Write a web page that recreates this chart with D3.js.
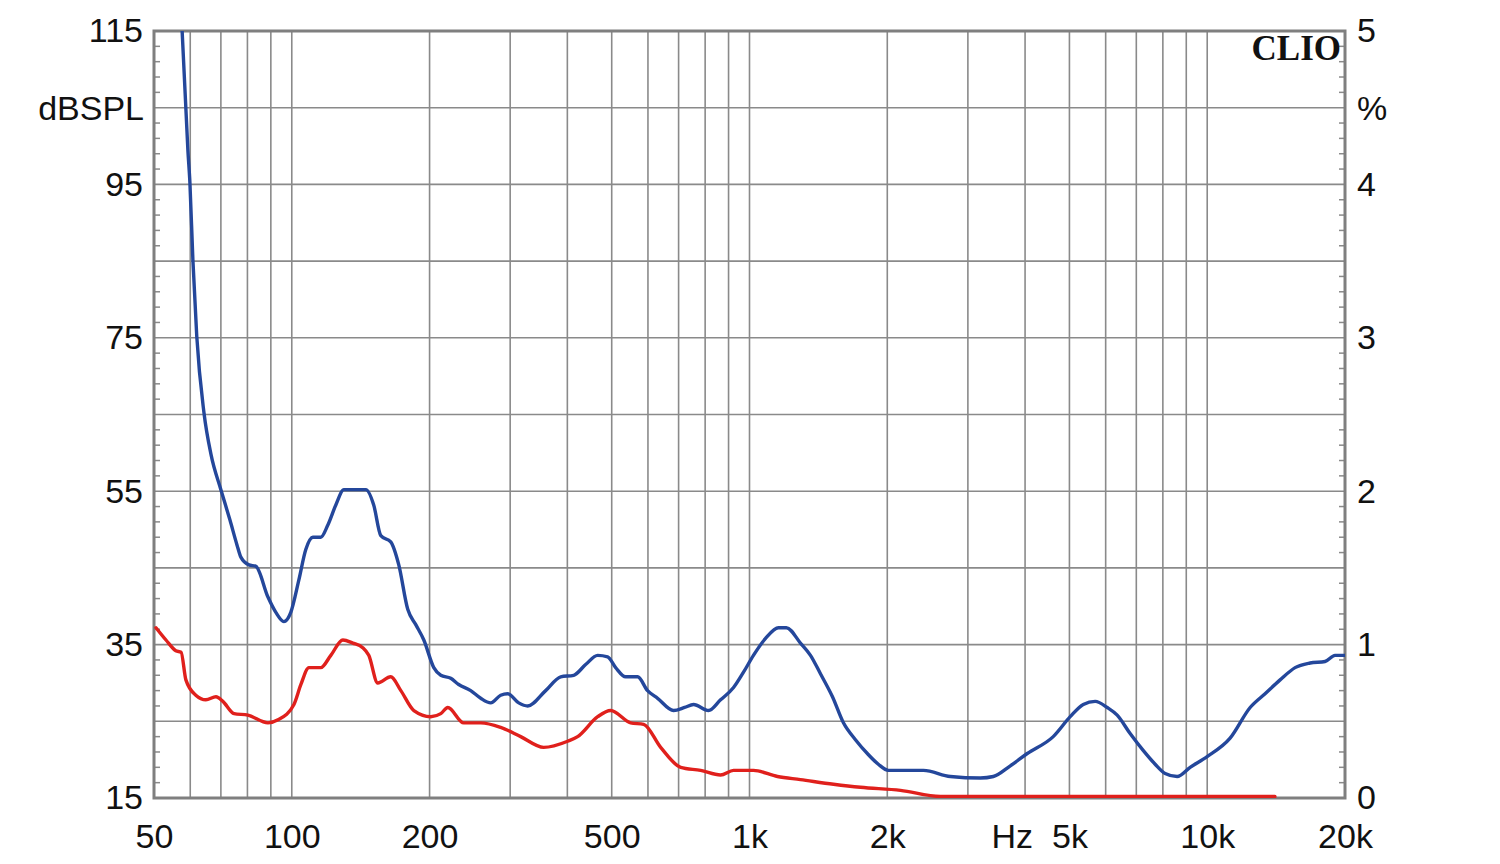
<!DOCTYPE html>
<html><head><meta charset="utf-8">
<script src="https://cdn.jsdelivr.net/npm/d3@7"></script>
<style>
html,body{margin:0;padding:0;background:#fff;}
svg{display:block;}
text{font-family:"Liberation Sans",Arial,sans-serif;fill:#111;}
</style></head>
<body><svg id="c" width="1500" height="864"></svg>
<script>
// ---- data (frequency in Hz, level in % on right axis) ----
const blueFreq = [57.6,59.3,59.9,60.8,62.0,64.3,66.6,70.0,73.3,75.9,77.4,80.6,83.5,88.7,92.3,96.1,99.5,103.6,107.3,111.2,115.7,119.9,124.8,130.0,145.2,151.0,156.5,164.5,171.3,179.2,186.6,194.3,204.3,211.6,222.5,231.6,246.0,258.7,272.0,286.0,296.3,313.2,327.7,358.6,386.8,412.9,438.5,465.9,489.8,510.0,536.2,569.5,598.8,629.8,682.4,721.3,754.6,813.6,864.5,922.9,970.3,1020,1084,1157,1204,1292,1359,1429,1518,1604,1704,1809,1912,2011,2399,2747,3194,3410,3714,4045,4609,5020,5360,5692,6047,6358,6786,7245,7696,8092,8595,9176,9995,11220,12410,13380,14430,15560,16780,18090,19020,20000];
const blueVal = [5.0,4.22,4.01,3.51,3.01,2.51,2.24,2.01,1.81,1.65,1.57,1.52,1.51,1.31,1.21,1.15,1.21,1.42,1.62,1.70,1.70,1.78,1.91,2.01,2.01,1.91,1.71,1.67,1.52,1.23,1.13,1.03,0.85,0.80,0.78,0.74,0.70,0.65,0.62,0.67,0.68,0.62,0.60,0.70,0.79,0.80,0.87,0.93,0.92,0.85,0.79,0.79,0.70,0.65,0.57,0.59,0.61,0.57,0.64,0.72,0.82,0.93,1.04,1.11,1.11,1.01,0.93,0.81,0.66,0.49,0.38,0.29,0.22,0.18,0.18,0.14,0.13,0.14,0.21,0.29,0.40,0.53,0.61,0.63,0.59,0.54,0.42,0.31,0.22,0.16,0.14,0.20,0.27,0.39,0.59,0.68,0.77,0.85,0.88,0.89,0.93,0.93];
const redFreq = [50.5,53.1,55.8,57.3,58.7,61.7,64.9,68.3,70.7,74.8,80.2,88.7,93.3,101.1,104.7,109.0,115.7,121.7,129.3,135.9,142.9,147.3,154.1,164.5,173.1,184.8,201.2,211.6,219.2,237.5,258.7,286.0,316.3,355.0,400.6,421.2,465.9,497.3,549.9,587.2,639.6,707.2,782.0,864.5,922.9,1020,1151,1292,1526,1748,2137,2612,3243,5834,9995,11790,14060];
const redVal = [1.11,1.03,0.96,0.95,0.77,0.67,0.64,0.66,0.63,0.55,0.54,0.49,0.51,0.61,0.74,0.85,0.85,0.93,1.03,1.01,0.98,0.93,0.75,0.79,0.70,0.57,0.53,0.55,0.59,0.49,0.49,0.46,0.40,0.33,0.37,0.40,0.53,0.57,0.49,0.48,0.33,0.20,0.18,0.15,0.18,0.18,0.14,0.12,0.09,0.07,0.05,0.01,0.01,0.01,0.01,0.01,0.01];
const leftTicks = [15,35,55,75,95,115];
const rightTicks = [0,1,2,3,4,5];
const xTicks = [50,100,200,500,1000,2000,5000,10000,20000];
const xGrid = [60,70,80,90,100,200,300,400,500,600,700,800,900,1000,2000,3000,4000,5000,6000,7000,8000,9000,10000];

// ---- layout ----
const L=154, R=1345, T=31, B=798;
const svg = d3.select("#c");
const x = d3.scaleLog().domain([50,20000]).range([L,R]);
const yL = d3.scaleLinear().domain([15,115]).range([B,T]);
const yR = d3.scaleLinear().domain([0,5]).range([B,T]);

svg.append("defs").append("clipPath").attr("id","clip")
  .append("rect").attr("x",L).attr("y",T).attr("width",R-L).attr("height",B-T);

const grid = svg.append("g");
grid.selectAll("line.v").data(xGrid).join("line")
  .attr("x1",d=>x(d)).attr("x2",d=>x(d)).attr("y1",T).attr("y2",B)
  .attr("stroke","#8a8a8a").attr("stroke-width",1.6);
grid.selectAll("line.h").data(d3.range(25,115,10)).join("line").attr("class","h")
  .attr("x1",L).attr("x2",R).attr("y1",d=>yL(d)).attr("y2",d=>yL(d))
  .attr("stroke","#8a8a8a").attr("stroke-width",1.6);

// minor ticks
const minor = d3.range(15,116,2).filter(d=>(d-15)%10!==0);
grid.selectAll("line.ml").data(minor).join("line").attr("class","ml")
  .attr("x1",L).attr("x2",L+6).attr("y1",d=>yL(d)).attr("y2",d=>yL(d))
  .attr("stroke","#8a8a8a").attr("stroke-width",1.5);
grid.selectAll("line.mr").data(minor).join("line").attr("class","mr")
  .attr("x1",R-6).attr("x2",R).attr("y1",d=>yL(d)).attr("y2",d=>yL(d))
  .attr("stroke","#8a8a8a").attr("stroke-width",1.5);

// frame
svg.append("rect").attr("x",L).attr("y",T).attr("width",R-L).attr("height",B-T)
  .attr("fill","none").attr("stroke","#7f7f7f").attr("stroke-width",3);

// curves
const line = d3.line().x(d=>x(d[0])).y(d=>yR(d[1])).curve(d3.curveMonotoneX);
const plot = svg.append("g").attr("clip-path","url(#clip)");
plot.append("path").datum(redFreq.map((f,i)=>[f,redVal[i]]))
  .attr("d",line).attr("fill","none").attr("stroke","#e0201c").attr("stroke-width",3.4)
  .attr("stroke-linejoin","round").attr("stroke-linecap","round");
plot.append("path").datum(blueFreq.map((f,i)=>[f,blueVal[i]]))
  .attr("d",line).attr("fill","none").attr("stroke","#24479b").attr("stroke-width",3.4)
  .attr("stroke-linejoin","round").attr("stroke-linecap","round");

// axes
const fs = "34px";
const ax1 = svg.append("g").attr("transform",`translate(${L-1},0)`)
  .call(d3.axisLeft(yL).tickValues(leftTicks).tickSize(0).tickPadding(10));
const ax2 = svg.append("g").attr("transform",`translate(${R},0)`)
  .call(d3.axisRight(yR).tickValues(rightTicks).tickFormat(d3.format("d")).tickSize(0).tickPadding(12));
const fmt = d=> d>=1000 ? (d/1000)+"k" : String(d);
const ax3 = svg.append("g").attr("transform",`translate(0,${B})`)
  .call(d3.axisBottom(x).tickValues(xTicks).tickFormat(fmt).tickSize(0).tickPadding(26));
[ax1,ax2,ax3].forEach(a=>{
  a.select(".domain").remove();
  a.selectAll("text").attr("font-size",fs).attr("font-family","Liberation Sans, Arial, sans-serif").attr("fill","#111");
});

svg.append("text").attr("x",L-10).attr("y",yL(105)).attr("dy","0.35em")
  .attr("text-anchor","end").attr("font-size",fs).text("dBSPL");
svg.append("text").attr("x",R+12).attr("y",yL(105)).attr("dy","0.35em")
  .attr("text-anchor","start").attr("font-size",fs).text("%");
svg.append("text").attr("x",x(3750)).attr("y",B+26).attr("dy","0.71em")
  .attr("text-anchor","middle").attr("font-size",fs).text("Hz");
svg.append("text").attr("x",R-4).attr("y",T+29)
  .attr("text-anchor","end").attr("font-size","35px").attr("font-weight","bold")
  .style("font-family","'Liberation Serif','DejaVu Serif',serif").text("CLIO");
</script></body></html>
